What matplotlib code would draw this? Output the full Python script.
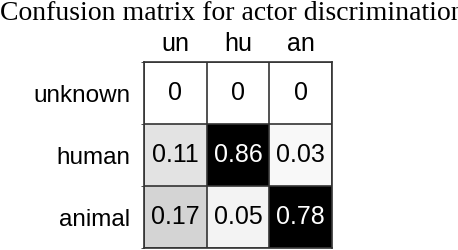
import numpy as np
import matplotlib
matplotlib.use("Agg")
import matplotlib.pyplot as plt
from matplotlib.colors import LinearSegmentedColormap

row_labels = ["unknown", "human", "animal"]
col_labels = ["un", "hu", "an"]
values = np.array([
    [0.0, 0.0, 0.0],
    [0.11, 0.86, 0.03],
    [0.17, 0.05, 0.78],
])
cell_text = [["0", "0", "0"],
             ["0.11", "0.86", "0.03"],
             ["0.17", "0.05", "0.78"]]

# white -> black, saturating to black for high values
cmap = LinearSegmentedColormap.from_list(
    "conf", [(0.0, "white"), (0.5, "#808080"), (0.75, "black"), (1.0, "black")])

fig = plt.figure(figsize=(4.58, 2.5), dpi=100)
ax = fig.add_axes([144 / 458, 2 / 250, 188 / 458, 186 / 250])

ax.imshow(values, cmap=cmap, vmin=0, vmax=1, aspect="auto",
          interpolation="nearest")

for i in range(3):
    for j in range(3):
        color = "white" if values[i, j] > 0.5 else "black"
        ax.text(j, i, cell_text[i][j], ha="center", va="center",
                fontsize=18, color=color, family="Liberation Sans")

# cell grid lines
for k in np.arange(-0.5, 3, 1):
    ax.axhline(k, color="#333333", lw=1.2)
    ax.axvline(k, color="#333333", lw=1.2)

ax.set_xticks(range(3))
ax.set_xticklabels(col_labels, fontsize=18, family="Liberation Sans")
ax.set_yticks(range(3))
ax.set_yticklabels(row_labels, fontsize=17.5, family="Liberation Sans")
ax.set_yticks(np.arange(-0.5, 3, 1), minor=True)
ax.xaxis.tick_top()
ax.tick_params(axis="x", length=0, pad=4)
ax.tick_params(axis="y", which="major", length=0, pad=10)
ax.tick_params(axis="y", which="minor", length=2, color="#333333")
ax.set_xlim(-0.5, 2.5)
ax.set_ylim(2.5, -0.5)
for s in ax.spines.values():
    s.set_color("#333333")
    s.set_linewidth(1.2)

fig.text(0.0, 0.998, "Confusion matrix for actor discrimination",
         ha="left", va="top", fontsize=20, family="Liberation Serif")

fig.savefig("out.png", dpi=100)
